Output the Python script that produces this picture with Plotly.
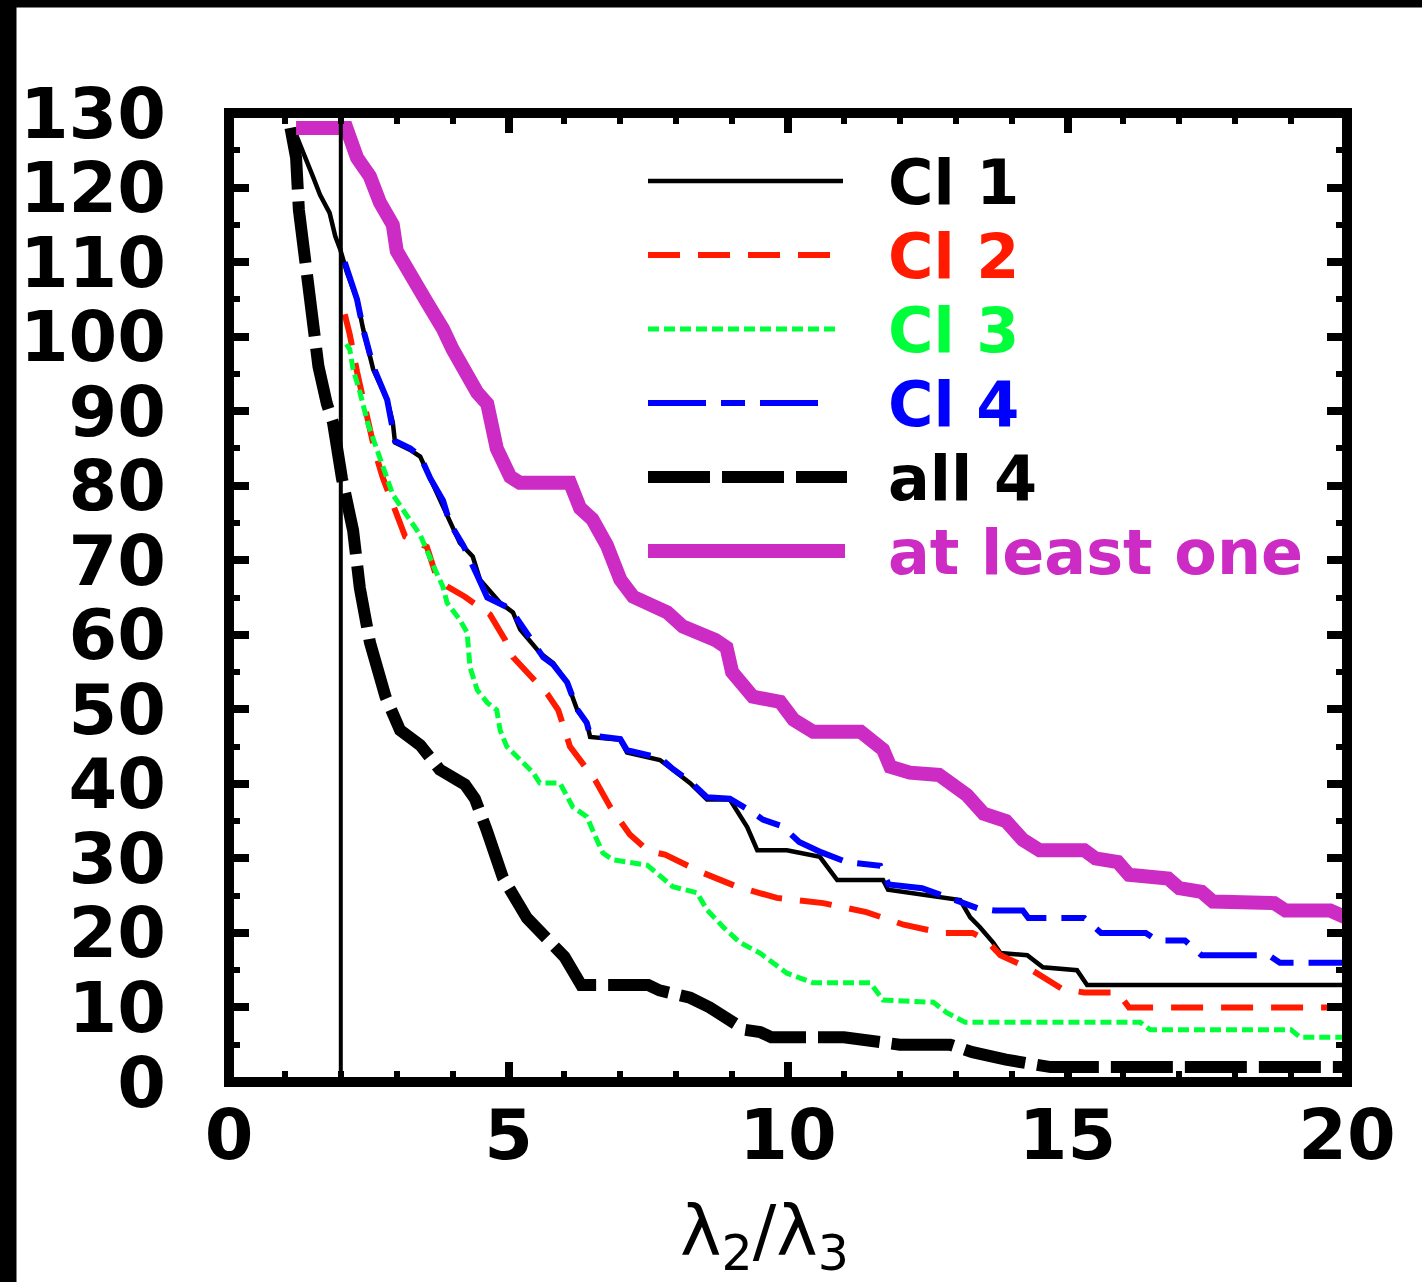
import plotly.graph_objects as go

# ---- data ----
cl1_x = [1.15, 1.32, 1.5, 1.63, 1.8, 1.9, 1.99, 2.11, 2.29, 2.4, 2.58, 2.83, 2.93, 2.97, 3.24, 3.42, 3.6, 3.83, 3.95,
         4.13, 4.36, 4.49, 4.85, 5.08, 5.21, 5.56, 5.8, 6.05, 6.23, 6.4, 6.46, 7.0, 7.12, 7.71, 7.94, 8.25, 8.55, 8.96,
         9.27, 9.45, 9.98, 10.57, 10.88, 11.7, 11.79, 12.13, 12.77, 13.08, 13.26, 13.43, 13.67, 13.8, 14.28, 14.56,
         15.17, 15.35, 20.0]
cl1_y = [128, 125, 121.5, 119, 116.6, 113.5, 111.7, 108.6, 105, 101, 95.6, 91.5, 88.5, 85.8, 84.8, 83.9, 81, 77, 75,
         72.3, 70.5, 67.4, 64.3, 63, 60.7, 57.6, 56.2, 53.6, 49.9, 48.2, 46.3, 45.9, 44.2, 43.2, 41.9, 40.1, 37.9, 37.9,
         34.2, 31.1, 31.1, 30.2, 27.1, 27.1, 25.8, 25.4, 24.8, 24.4, 22.1, 20.8, 18.7, 17.3, 17.0, 15.4,
         15.0, 13.0, 13.0]

cl2_x = [2.07, 2.16, 2.29, 2.43, 2.61, 2.75, 2.99, 3.15, 3.54, 3.69, 3.9, 4.22, 4.67, 4.94, 5.08, 5.38, 5.7, 5.89,
         6.1, 6.4, 6.55, 6.82, 7.17, 7.5, 7.8, 8.43, 9.09, 9.8, 10.63, 11.4, 12.07, 12.75, 13.3, 13.55, 13.8, 14.3,
         14.6, 14.9, 15.3, 15.9, 16.1, 20.0]
cl2_y = [103, 100.3, 95.3, 90.6, 84.6, 81.1, 76.1, 73.2, 71.8, 68.3, 66.5, 65.1, 62.7, 59.3, 57.0, 54.6, 52, 49.9,
         45, 42, 40.5, 36.9, 33.2, 31, 30.5, 28.2, 26.2, 24.7, 24.0, 22.8, 21.1, 20.0, 20, 19, 17, 15.3,
         14, 12.5, 12, 12, 10, 10]

cl3_x = [2.1, 2.16, 2.22, 2.34, 2.49, 2.61, 2.93, 3.11, 3.42, 3.69, 3.83, 3.9, 4.13, 4.26, 4.31, 4.44, 4.62, 4.79,
         4.85, 4.97, 5.21, 5.44, 5.56, 5.92, 6.15, 6.4, 6.58, 6.69, 6.87, 7.48, 7.94, 8.37, 8.55, 8.84, 9.14, 9.5,
         9.73, 9.98, 10.45, 11.47, 11.7, 12.6, 12.84, 13.17, 16.3, 16.48, 19.0, 19.16, 20.0]
cl3_y = [99, 98.3, 95.6, 92.6, 88.2, 85.5, 78.8, 76.8, 73.4, 68.7, 66.4, 64.3, 62, 60.3, 55.7, 52.6, 50.9, 49.9,
         47.2, 45.0, 43.2, 41.5, 40.1, 40.1, 36.9, 35.6, 32.5, 30.7, 29.8, 29.1, 26.2, 25.4, 23.1, 20.8, 18.7, 17.3,
         16.0, 14.6, 13.3, 13.3, 11.0, 10.7, 9.3, 8.0, 8, 7, 7, 6, 6]

cl4_x = [2.07, 2.29, 2.4, 2.58, 2.83, 2.97, 3.24, 3.42, 3.6, 3.83, 3.95, 4.19, 4.44, 4.62, 5.03, 5.26, 5.62, 5.8,
         6.05, 6.23, 6.4, 6.46, 7.0, 7.12, 7.71, 7.94, 8.25, 8.55, 8.96, 9.3, 9.55, 9.9, 10.2, 10.6, 11.05, 11.65,
         11.8, 12.4, 12.8, 13.1, 13.4, 13.7, 14.2, 14.3, 15.3, 15.6, 16.4, 16.6, 17.1, 17.4, 18.6, 18.8, 20.0]
cl4_y = [110, 105, 101, 96, 91.5, 86, 85, 84, 81, 78, 75, 72, 68, 65, 63.5, 61, 57, 56,
         53.6, 50, 48.2, 46.5, 46, 44.5, 43.5, 42, 40.3, 38.2, 38, 36.5, 35.2, 34.3, 32.2, 30.8, 29.5, 29,
         26.5, 26, 25, 24.2, 23.3, 23, 23, 22, 22, 20, 20, 19, 19, 17, 17, 16, 16]

all4_x = [1.1, 1.2, 1.25, 1.36, 1.48, 1.6, 1.75, 1.86, 2.02, 2.22, 2.34, 2.52, 2.8, 3.06, 3.42, 3.77, 4.22, 4.4, 4.6,
          4.9, 5.33, 6.0, 6.3, 7.5, 7.7, 8.25, 8.6, 8.96, 9.23, 9.5, 9.7, 11.0, 11.5, 12.0, 12.9, 13.3, 13.9, 14.7,
          20.0]
all4_y = [128, 124, 117, 110, 103, 96, 91, 88.5, 81, 74, 66.3, 59, 51.7, 47.2, 45.2, 41.9, 39.9, 38, 34,
          27.4, 22, 16.8, 13, 13, 12.3, 11.3, 10, 8.3, 7, 6.7, 6, 6, 5.5, 5, 5, 4, 3, 2,
          2]

one_x = [1.2, 2.1, 2.29, 2.52, 2.7, 2.93, 3.0, 3.24, 3.54, 3.83, 4.0, 4.44, 4.62, 4.79, 5.03, 5.2, 6.1, 6.28, 6.5,
         6.76, 7.0, 7.23, 7.84, 8.12, 8.43, 8.7, 8.9, 9.0, 9.37, 9.86, 10.1, 10.45, 11.3, 11.47, 11.7, 11.83, 12.18,
         12.7, 12.9, 13.2, 13.5, 13.9, 14.2, 14.5, 15.3, 15.5, 15.9, 16.1, 16.8, 17.0, 17.4, 17.6, 18.7, 18.9, 19.7,
         19.9, 20.0]
one_y = [128, 128, 124, 121.5, 118, 115, 111.5, 108, 104.6, 101, 98.3, 92.5, 91, 85, 81.2, 80.4, 80.4, 77, 75.5,
         72, 67.4, 65.1, 63, 61.1, 60.3, 59.3, 58.3, 55, 51.7, 51, 48.6, 47, 47, 46, 44.6, 42.3, 41.5,
         41.2, 40, 38.5, 36, 35, 32.5, 31.1, 31.1, 30, 29.5, 27.8, 27.3, 26, 25.5, 24.2, 24, 23, 23,
         22, 22]

x_ticks = [0, 5, 10, 15, 20]
y_ticks = [0, 10, 20, 30, 40, 50, 60, 70, 80, 90, 100, 110, 120, 130]
threshold_x = 2.0

legend_names = ["Cl 1", "Cl 2", "Cl 3", "Cl 4", "all 4", "at least one"]
colors = ["#000000", "#ff1a00", "#00ff3a", "#0000ff", "#000000", "#cc2cc4"]
widths = [4.5, 6, 5, 6, 12, 14]
dashes = ["solid", "32px,18px", "11px,5px", "58px,15px,24px,15px", "62px,12px", "solid"]

series = [(cl1_x, cl1_y), (cl2_x, cl2_y), (cl3_x, cl3_y), (cl4_x, cl4_y), (all4_x, all4_y), (one_x, one_y)]

fig = go.Figure()
for (xs, ys), name, c, w, d in zip(series, legend_names, colors, widths, dashes):
    fig.add_trace(go.Scatter(x=xs, y=ys, mode="lines", name=name,
                             line=dict(color=c, width=w, dash=d), showlegend=False))

W, H = 1422, 1282
L, R, T, B = 229, 75, 113, 200
pw, ph = W - L - R, H - T - B


def px2paper_x(px):
    return (px - L) / pw


def px2paper_y(py):
    return (H - B - py) / ph


shapes = []
# vertical threshold line
shapes.append(dict(type="line", xref="x", yref="paper", x0=threshold_x, x1=threshold_x, y0=0, y1=1,
                   line=dict(color="black", width=4), layer="above"))
# frame
shapes.append(dict(type="rect", xref="paper", yref="paper", x0=0, x1=1, y0=0, y1=1,
                   line=dict(color="black", width=10), layer="above"))
# black borders of the image
shapes.append(dict(type="rect", xref="paper", yref="paper", x0=px2paper_x(-5), x1=px2paper_x(16.5),
                   y0=px2paper_y(H + 5), y1=px2paper_y(-5), line=dict(width=0), fillcolor="black"))
shapes.append(dict(type="rect", xref="paper", yref="paper", x0=px2paper_x(-5), x1=px2paper_x(W + 5),
                   y0=px2paper_y(7.5), y1=px2paper_y(-5), line=dict(width=0), fillcolor="black"))

# legend (manual)
leg_y = [181, 255, 329, 403, 477, 551]
leg_x1 = [843, 830, 840, 822, 847, 845]
annotations = []
for i, name in enumerate(legend_names):
    shapes.append(dict(type="line", xref="paper", yref="paper", x0=px2paper_x(648), x1=px2paper_x(leg_x1[i]),
                       y0=px2paper_y(leg_y[i]), y1=px2paper_y(leg_y[i]),
                       line=dict(color=colors[i], width=widths[i], dash=dashes[i])))
    annotations.append(dict(xref="paper", yref="paper", x=px2paper_x(886), y=px2paper_y(leg_y[i] + 1),
                            xanchor="left", yanchor="middle", showarrow=False, text=name,
                            font=dict(family="DejaVu Sans", size=62, color=colors[i], weight="bold")))

annotations.append(dict(xref="paper", yref="paper", x=px2paper_x(764), y=px2paper_y(1236),
                        xanchor="center", yanchor="middle", showarrow=False,
                        text="λ<sub>2</sub>/λ<sub>3</sub>",
                        font=dict(family="DejaVu Sans", size=70, color="black")))

tickfont = dict(family="DejaVu Sans", size=70, color="black", weight="bold")

fig.update_layout(
    width=W, height=H,
    margin=dict(l=L, r=R, t=T, b=B, pad=0),
    paper_bgcolor="white", plot_bgcolor="white",
    shapes=shapes, annotations=annotations,
    xaxis=dict(range=[0, 20], tickvals=x_ticks, ticktext=[str(v) for v in x_ticks],
               ticks="inside", ticklen=20, tickwidth=8, tickcolor="black", mirror="ticks",
               showline=False, showgrid=False, zeroline=False, tickfont=tickfont,
               ticklabelstandoff=6,
               minor=dict(dtick=1, ticks="inside", ticklen=11, tickwidth=6, tickcolor="black", showgrid=False)),
    yaxis=dict(range=[0, 130], tickvals=y_ticks, ticktext=[str(v) for v in y_ticks],
               ticks="inside", ticklen=20, tickwidth=8, tickcolor="black", mirror="ticks",
               showline=False, showgrid=False, zeroline=False, tickfont=tickfont,
               ticklabelstandoff=62,
               minor=dict(dtick=5, ticks="inside", ticklen=11, tickwidth=6, tickcolor="black", showgrid=False)),
)

fig.write_html("out.html", config={"displayModeBar": False},
               post_script="document.body.style.margin='0';document.body.style.overflow='hidden';")
